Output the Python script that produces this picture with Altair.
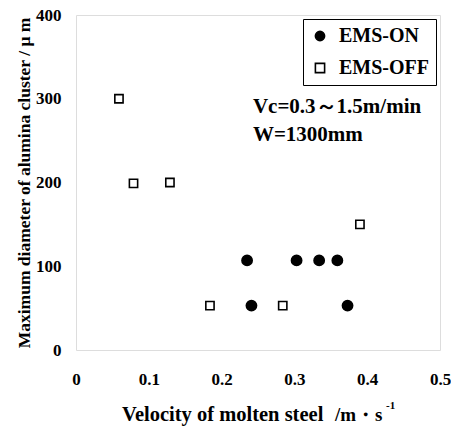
import altair as alt
import pandas as pd

# EMS-ON (filled circles)
on_x = [0.235, 0.241, 0.303, 0.334, 0.359, 0.373]
on_y = [107, 53, 107, 107, 107, 53]
# EMS-OFF (open squares)
off_x = [0.059, 0.079, 0.129, 0.184, 0.284, 0.390]
off_y = [300, 199, 200, 53, 53, 150]

x_ticks = [0, 0.1, 0.2, 0.3, 0.4, 0.5]
y_ticks = [0, 100, 200, 300, 400]

notes = ["Vc=0.3～1.5m/min", "W=1300mm"]
notes_x = [0.243, 0.243]
notes_y = [290, 257]

FONT = "Liberation Serif"
GROUPS = ["EMS-ON", "EMS-OFF"]

df = pd.DataFrame({
    "v": on_x + off_x,
    "d": on_y + off_y,
    "g": ["EMS-ON"] * len(on_x) + ["EMS-OFF"] * len(off_x),
})
ndf = pd.DataFrame({"x": notes_x, "y": notes_y, "t": notes})

W, H = 364, 335

xs = alt.Scale(domain=[0, 0.5], nice=False)
ys = alt.Scale(domain=[0, 400], nice=False)


def leg():
    return alt.Legend(title=None, orient="none", legendX=227, legendY=4,
                      strokeColor="black", padding=7, labelFont=FONT,
                      labelFontSize=20, labelFontWeight="bold", labelColor="black",
                      symbolStrokeColor="black", symbolStrokeWidth=1.6,
                      symbolSize=85, rowPadding=12, labelOffset=9)


pts = alt.Chart(df).mark_point(filled=False, strokeWidth=1.6, opacity=1).encode(
    x=alt.X("v:Q", scale=xs, axis=alt.Axis(values=x_ticks, title=None,
                                          labelExpr="datum.value == 0 ? '0' : format(datum.value, '.1f')",
                                          ticks=False, domain=False, grid=False,
                                          labelPadding=21, labelFontSize=17,
                                          labelFont=FONT, labelFontWeight="bold",
                                          labelColor="black", labelFlush=False)),
    y=alt.Y("d:Q", scale=ys, axis=alt.Axis(values=y_ticks, title="Maximum diameter of alumina cluster /  μ m",
                                          ticks=False, domain=False, grid=False,
                                          labelPadding=15, labelFontSize=17,
                                          labelFont=FONT, labelFontWeight="bold",
                                          labelColor="black", labelFlush=False,
                                          titleFont=FONT, titleFontSize=17.5, titleFontWeight="bold",
                                          titleColor="black", titlePadding=2)),
    shape=alt.Shape("g:N", scale=alt.Scale(domain=GROUPS, range=["circle", "square"]), legend=leg()),
    fill=alt.Fill("g:N", scale=alt.Scale(domain=GROUPS, range=["black", "white"]), legend=leg()),
    stroke=alt.Stroke("g:N", scale=alt.Scale(domain=GROUPS, range=["black", "black"]), legend=leg()),
    size=alt.condition(alt.datum.g == "EMS-ON", alt.value(105), alt.value(68)),
)

txt = alt.Chart(ndf).mark_text(align="left", baseline="middle", font=FONT, fontSize=21,
                               fontWeight="bold", color="black").encode(
    x=alt.X("x:Q", scale=xs), y=alt.Y("y:Q", scale=ys), text="t:N")

xt_parts = ["Velocity of molten steel", "/m・s", "-1"]


def label(t, x, y, size):
    return alt.Chart(pd.DataFrame({"t": [t]})).mark_text(
        align="left", baseline="alphabetic", font=FONT, fontSize=size, fontWeight="bold",
        color="black"
    ).encode(x=alt.value(x), y=alt.value(y), text="t:N")


xt1 = label(xt_parts[0], 122 - 76, 421 - 15, 20.5)
xt2 = label(xt_parts[1], 335 - 76, 421 - 15, 19)
xt3 = label(xt_parts[2], 386 - 76, 409 - 15, 11)

chart = alt.layer(pts, txt, xt1, xt2, xt3).properties(
    width=W, height=H,
    autosize=alt.AutoSizeParams(type="none"),
    padding={"left": 76, "top": 15, "right": 11, "bottom": 78},
).configure_view(stroke="black", strokeWidth=2.5).configure_legend(
    strokeWidth=2
).configure(background="white")

chart.save("out.html", embed_options={"renderer": "svg", "actions": False})
